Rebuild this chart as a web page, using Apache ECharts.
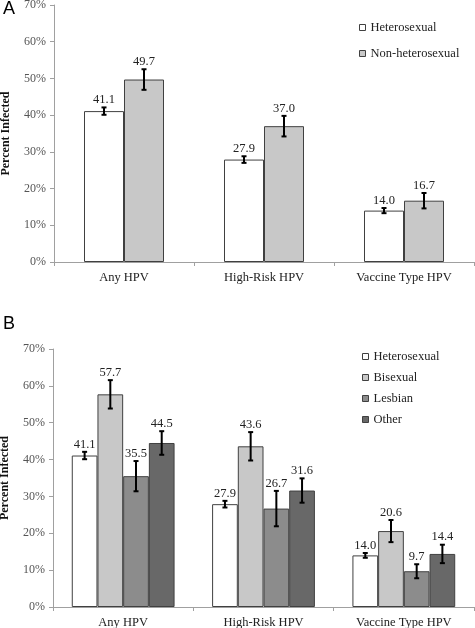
<!DOCTYPE html>
<html>
<head>
<meta charset="utf-8">
<script src="https://cdn.jsdelivr.net/npm/echarts@6/dist/echarts.min.js"></script>
<style>
html,body{margin:0;padding:0;background:#fff;}
#c{width:475px;height:628px;}
</style>
</head>
<body>
<div id="c"></div>
<script>
var categories = ['Any HPV', 'High-Risk HPV', 'Vaccine Type HPV'];
var yTicks = [0, 10, 20, 30, 40, 50, 60, 70];

// Panel A
var aNames = ['Heterosexual', 'Non-heterosexual'];
var aHetero = [41.1, 27.9, 14.0];
var aHeteroErr = [1.0, 0.9, 0.7];
var aNonHetero = [49.7, 37.0, 16.7];
var aNonHeteroErr = [2.8, 2.8, 2.1];

// Panel B
var bNames = ['Heterosexual', 'Bisexual', 'Lesbian', 'Other'];
var bHetero = [41.1, 27.9, 14.0];
var bHeteroErr = [1.0, 0.9, 0.65];
var bBisexual = [57.7, 43.6, 20.6];
var bBisexualErr = [3.85, 3.85, 3.0];
var bLesbian = [35.5, 26.7, 9.7];
var bLesbianErr = [4.1, 4.8, 1.9];
var bOther = [44.5, 31.6, 14.4];
var bOtherErr = [3.2, 3.3, 2.5];

var colors = ['#ffffff', '#c8c8c8', '#8c8c8c', '#686868'];
var serif = "'Liberation Serif', 'Times New Roman', serif";

function barSeries(name, data, color, axisIdx, width) {
  return {
    name: name, type: 'bar', data: data,
    xAxisIndex: axisIdx, yAxisIndex: axisIdx,
    barWidth: width, barGap: '0%',
    itemStyle: {color: color, borderColor: '#404040', borderWidth: 1},
    z: 2
  };
}

function errSeries(values, errs, axisIdx, idx, n, width) {
  var data = values.map(function (v, i) { return [i, v, errs[i]]; });
  return {
    type: 'custom', xAxisIndex: axisIdx, yAxisIndex: axisIdx,
    data: data, z: 5, silent: true,
    renderItem: function (params, api) {
      var ci = api.value(0), v = api.value(1), e = api.value(2);
      var off = (idx - (n - 1) / 2) * width;
      var top = api.coord([ci, v + e]);
      var bot = api.coord([ci, v - e]);
      var x = top[0] + off;
      var cap = 2.5;
      var st = {stroke: '#000', lineWidth: 2};
      return {
        type: 'group',
        children: [
          {type: 'line', shape: {x1: x, y1: top[1], x2: x, y2: bot[1]}, style: st},
          {type: 'line', shape: {x1: x - cap, y1: top[1], x2: x + cap, y2: top[1]}, style: st},
          {type: 'line', shape: {x1: x - cap, y1: bot[1], x2: x + cap, y2: bot[1]}, style: st},
          {type: 'text', x: x, y: top[1] - 1,
           style: {text: v.toFixed(1), fill: '#222', fontFamily: serif, fontSize: 12.5,
                   align: 'center', verticalAlign: 'bottom'}}
        ]
      };
    }
  };
}

function xAx(gi) {
  return {
    type: 'category', data: categories, gridIndex: gi,
    axisLine: {lineStyle: {color: '#a0a0a0', width: 1}},
    axisTick: {show: true, length: 4, lineStyle: {color: '#a0a0a0'}},
    axisLabel: {color: '#222', fontFamily: serif, fontSize: 12.5, margin: 9}
  };
}
function yAx(gi) {
  return {
    type: 'value', gridIndex: gi, min: yTicks[0], max: yTicks[yTicks.length - 1], interval: 10,
    name: 'Percent Infected', nameLocation: 'middle', nameGap: 42, nameRotate: 90,
    nameTextStyle: {fontFamily: serif, fontWeight: 'bold', fontSize: 12, color: '#111'},
    axisLine: {show: true, lineStyle: {color: '#a0a0a0', width: 1}},
    axisTick: {show: true, length: 4, lineStyle: {color: '#a0a0a0'}},
    splitLine: {show: false},
    axisLabel: {color: '#555', fontFamily: serif, fontSize: 12, margin: 8, formatter: '{value}%'}
  };
}

var legendText = {fontFamily: serif, fontSize: 12.5, color: '#222'};
var titleText = {fontFamily: 'Liberation Sans', fontSize: 18, fontWeight: 'normal', color: '#000'};
var chart = echarts.init(document.getElementById('c'), null, {renderer: 'canvas'});
chart.setOption({
  animation: false,
  backgroundColor: '#fff',
  textStyle: {fontFamily: serif},
  title: [
    {text: 'A', left: 3, top: 0, padding: 0, textStyle: titleText},
    {text: 'B', left: 3, top: 315, padding: 0, textStyle: titleText}
  ],
  grid: [
    {left: 54, right: 1, top: 5, height: 257, containLabel: false, outerBoundsMode: 'none'},
    {left: 53, right: 1, top: 349, height: 258, containLabel: false, outerBoundsMode: 'none'}
  ],
  legend: [
    {data: aNames, orient: 'vertical', left: 354, top: 16, padding: 5, itemWidth: 6, itemHeight: 6, itemGap: 13,
     icon: 'rect', textStyle: legendText,
     itemStyle: {borderColor: '#404040', borderWidth: 1}},
    {data: bNames, orient: 'vertical', left: 357, top: 345, padding: 5, itemWidth: 6, itemHeight: 6, itemGap: 8,
     icon: 'rect', textStyle: legendText,
     itemStyle: {borderColor: '#404040', borderWidth: 1}}
  ],
  xAxis: [xAx(0), xAx(1)],
  yAxis: [yAx(0), yAx(1)],
  series: [
    barSeries(aNames[0], aHetero, colors[0], 0, 40),
    barSeries(aNames[1], aNonHetero, colors[1], 0, 40),
    errSeries(aHetero, aHeteroErr, 0, 0, 2, 40),
    errSeries(aNonHetero, aNonHeteroErr, 0, 1, 2, 40),
    barSeries(bNames[0], bHetero, colors[0], 1, 25.7),
    barSeries(bNames[1], bBisexual, colors[1], 1, 25.7),
    barSeries(bNames[2], bLesbian, colors[2], 1, 25.7),
    barSeries(bNames[3], bOther, colors[3], 1, 25.7),
    errSeries(bHetero, bHeteroErr, 1, 0, 4, 25.7),
    errSeries(bBisexual, bBisexualErr, 1, 1, 4, 25.7),
    errSeries(bLesbian, bLesbianErr, 1, 2, 4, 25.7),
    errSeries(bOther, bOtherErr, 1, 3, 4, 25.7)
  ]
});
</script>
</body>
</html>
